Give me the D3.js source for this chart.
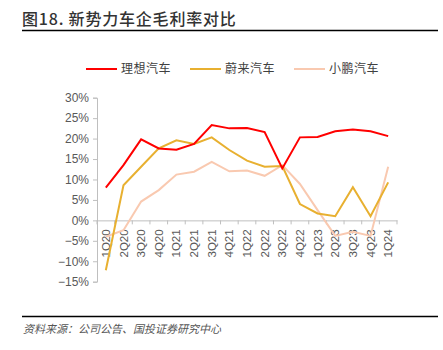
<!DOCTYPE html>
<html>
<head>
<meta charset="utf-8">
<script src="https://cdn.jsdelivr.net/npm/d3@7"></script>
<style>
  body { margin: 0; background: #fff; }
  svg text { font-family: "Liberation Sans", Arial, "Noto Sans CJK SC", sans-serif; }
  .cjk { font-family: "Noto Sans CJK SC", sans-serif; }
</style>
</head>
<body>
<div id="chart"></div>
<script>
var width = 443, height = 350;

// data
var quarters = ["1Q20", "2Q20", "3Q20", "4Q20", "1Q21", "2Q21", "3Q21", "4Q21",
    "1Q22", "2Q22", "3Q22", "4Q22", "1Q23", "2Q23", "3Q23", "4Q23", "1Q24"];
var liAuto = [8.0, 13.5, 19.8, 17.6, 17.3, 18.7, 23.3, 22.5, 22.6, 21.6, 12.7, 20.3, 20.4, 21.8, 22.2, 21.8, 20.6];
var nio = [-12.2, 8.6, 13.1, 17.6, 19.6, 18.7, 20.3, 17.2, 14.6, 13.1, 13.3, 4.0, 1.7, 1.0, 8.1, 1.0, 9.3];
var xpeng = [-4.0, -2.4, 4.6, 7.4, 11.2, 11.9, 14.3, 12.0, 12.2, 10.9, 13.5, 8.9, 2.5, -3.8, -2.8, -3.8, 13.1];
var seriesNames = ["理想汽车", "蔚来汽车", "小鹏汽车"];
var seriesColors = ["#ff0000", "#e8b030", "#f9c9b0"];
var yTicks = [30, 25, 20, 15, 10, 5, 0, -5, -10, -15];

var svg = d3.select("#chart").append("svg")
    .attr("width", width)
    .attr("height", height);

// title + rules
svg.append("text")
    .attr("class", "cjk")
    .attr("x", 22).attr("y", 25)
    .style("font-size", "16px")
    .style("font-weight", "500")
    .style("letter-spacing", "0.8px")
    .style("fill", "#333")
    .text("图18. 新势力车企毛利率对比");

svg.append("line")
    .attr("x1", 22).attr("x2", 438)
    .attr("y1", 30.5).attr("y2", 30.5)
    .style("stroke", "#000").style("stroke-width", 1.5);

svg.append("line")
    .attr("x1", 22).attr("x2", 438)
    .attr("y1", 316.5).attr("y2", 316.5)
    .style("stroke", "#000").style("stroke-width", 1.5);

svg.append("text")
    .attr("class", "cjk")
    .attr("x", 23).attr("y", 333)
    .style("font-size", "11px")
    .style("font-style", "italic")
    .style("fill", "#555")
    .text("资料来源：公司公告、国投证券研究中心");

// scales
var x = d3.scaleBand().domain(quarters).range([97, 397]);
var y = d3.scaleLinear().domain([-15, 30]).range([281.7, 97.7]);

// y axis
var yAxis = svg.append("g")
    .attr("transform", "translate(97,0)")
    .call(d3.axisLeft(y).tickValues(yTicks).tickSize(4).tickPadding(4)
        .tickFormat(d => (d < 0 ? "\u2212" + (-d) : d) + "%"));
yAxis.select(".domain").style("stroke", "#bfbfbf");
yAxis.selectAll(".tick line").style("stroke", "#bfbfbf");
yAxis.selectAll("text")
    .style("font-size", "12px")
    .style("fill", "#595959")
    .style("font-family", "'Liberation Sans', Arial, sans-serif");

// x axis at 0
var xAxis = svg.append("g")
    .attr("transform", "translate(0," + y(0) + ")")
    .call(d3.axisBottom(x).tickSize(0).tickPadding(0));
xAxis.select(".domain").style("stroke", "#bfbfbf");
xAxis.selectAll(".tick text")
    .attr("transform", "rotate(-90)")
    .attr("x", -9).attr("y", 0).attr("dy", "0.35em")
    .style("text-anchor", "end")
    .style("font-size", "11.5px")
    .style("fill", "#595959");
xAxis.selectAll(".bound")
    .data(d3.range(quarters.length + 1))
    .enter().append("line")
    .attr("x1", i => 97 + i * x.step())
    .attr("x2", i => 97 + i * x.step())
    .attr("y1", 0).attr("y2", 4)
    .style("stroke", "#bfbfbf");

// lines, drawn back to front
var line = d3.line()
    .x((d, i) => x(quarters[i]) + x.bandwidth() / 2)
    .y(d => y(d));

[xpeng, nio, liAuto].forEach(function (vals, k) {
    var idx = 2 - k;
    svg.append("path")
        .datum(vals)
        .attr("d", line)
        .style("fill", "none")
        .style("stroke", seriesColors[idx])
        .style("stroke-width", 2);
});

// legend
var legendX = [86, 190, 294];
seriesNames.forEach(function (name, i) {
    var g = svg.append("g").attr("transform", "translate(" + legendX[i] + ",69)");
    g.append("line")
        .attr("x1", 0).attr("x2", 31)
        .style("stroke", seriesColors[i]).style("stroke-width", 2);
    g.append("text")
        .attr("class", "cjk")
        .attr("x", 35).attr("y", 0).attr("dy", "0.35em")
        .style("font-size", "12px")
        .style("letter-spacing", "0.5px")
        .style("fill", "#404040")
        .text(name);
});
</script>
</body>
</html>
